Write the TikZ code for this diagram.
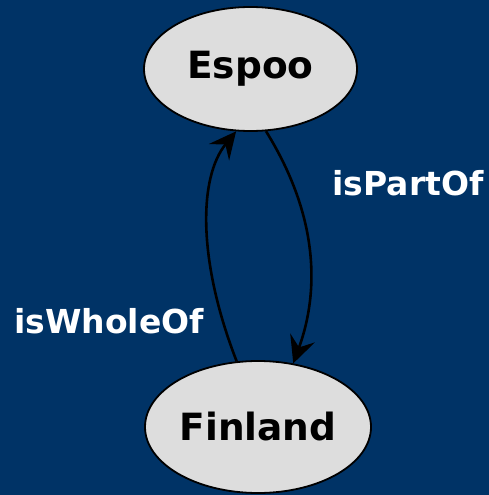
\documentclass[tikz,border=0pt]{standalone}
\usepackage{fontspec}
\setmainfont{DejaVu Sans}
\usetikzlibrary{shapes.geometric,arrows.meta}
\definecolor{navy}{RGB}{0,51,102}
\definecolor{bubble}{RGB}{221,221,221}
\tikzset{
  place/.style={ellipse, draw=black, line width=1.8pt, fill=bubble, inner sep=0pt,
    font=\bfseries\fontsize{37.5}{40}\selectfont, text=black},
  relation/.style={draw=black, line width=2.6pt,
    -{Stealth[length=27pt, width=26pt, inset=10pt]}},
  rellabel/.style={anchor=base, text=white, font=\bfseries\fontsize{33}{36}\selectfont}
}
\begin{document}
\begin{tikzpicture}[x=1pt, y=-1pt]
  \fill[navy] (0,0) rectangle (489,495);
  \useasboundingbox (0,0) rectangle (489,495);

  \node[place, minimum width=213pt, minimum height=124pt] (espoo) at (250.5,69) {Espoo};
  \node[place, minimum width=226pt, minimum height=132pt] (finland) at (258,427) {Finland};

  \draw[relation] (espoo.-76) .. controls (318,215) and (320,290) .. (finland.61);
  \draw[relation] (finland.108) .. controls (198,262) and (198,178) .. (espoo.-103);

  \node[rellabel] (partof) at (408,195) {isPartOf};
  \node[rellabel] (wholeof) at (109,333) {isWholeOf};
\end{tikzpicture}
\end{document}
